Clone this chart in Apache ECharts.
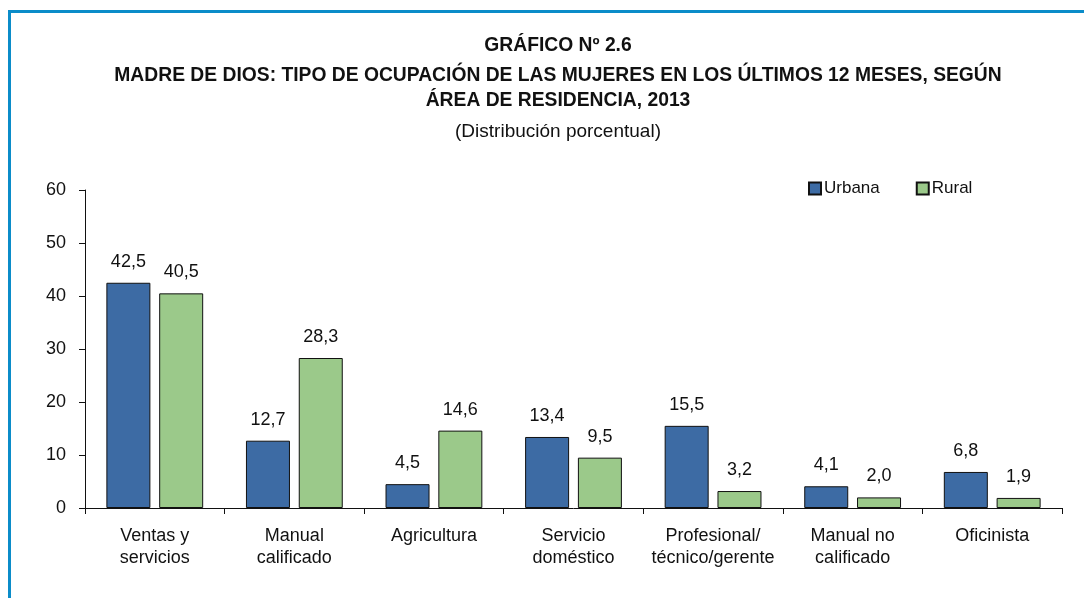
<!DOCTYPE html>
<html><head><meta charset="utf-8">
<script src="https://cdn.jsdelivr.net/npm/echarts@6/dist/echarts.min.js"></script>
<style>html,body{margin:0;padding:0;background:#fff}#c{width:1084px;height:598px}</style>
</head><body><div id="c"></div>
<script>
var categories = ['Ventas y\nservicios','Manual\ncalificado','Agricultura','Servicio\ndoméstico','Profesional/\ntécnico/gerente','Manual no\ncalificado','Oficinista'];
var urbana = [42.5,12.7,4.5,13.4,15.5,4.1,6.8];
var rural = [40.5,28.3,14.6,9.5,3.2,2.0,1.9];
var yTicks = [0,10,20,30,40,50,60];
var FONT = "'Liberation Sans',Arial,sans-serif";
var chart = echarts.init(document.getElementById('c'), null, {renderer:'canvas'});
function fmt(p){return p.value.toFixed(1).replace('.',',');}
function titleText(txt, y, bold, size){
  return {type:'text',x:558,y:y,
    style:{text:txt,font:(bold?'bold ':'')+size+'px '+FONT,fill:'#111',textAlign:'center',textVerticalAlign:'middle'}};
}
chart.setOption({
  backgroundColor:'#fff',
  animation:false,
  graphic:[
    {type:'rect',shape:{x:9.5,y:11.5,width:2000,height:2000},style:{fill:'none',stroke:'#0b8cc9',lineWidth:3},z:100},
    titleText('GRÁFICO Nº 2.6',46,true,19.3),
    titleText('MADRE DE DIOS: TIPO DE OCUPACIÓN DE LAS MUJERES EN LOS ÚLTIMOS 12 MESES, SEGÚN',76,true,19.3),
    titleText('ÁREA DE RESIDENCIA, 2013',101,true,19.3),
    titleText('(Distribución porcentual)',132,false,19)
  ],
  legend:{
    left:808, top:180, padding:0, itemWidth:12, itemHeight:12, itemGap:36,
    textStyle:{fontFamily:FONT,fontSize:17,color:'#111',padding:[0,0,0,-2]},
    data:[{name:'Urbana',icon:'rect'},{name:'Rural',icon:'rect'}]
  },
  grid:{left:85,right:22,top:190,bottom:90,containLabel:false},
  xAxis:{
    type:'category', data:categories,
    axisLine:{lineStyle:{color:'#111',width:1}},
    axisTick:{show:true,length:6,lineStyle:{color:'#111'}},
    axisLabel:{interval:0,fontFamily:FONT,fontSize:18,color:'#111',lineHeight:22,margin:17}
  },
  yAxis:{
    type:'value', min:0, max:60, interval:10,
    axisLine:{show:true,lineStyle:{color:'#111'}},
    axisTick:{show:true,length:6,lineStyle:{color:'#111'}},
    splitLine:{show:false},
    axisLabel:{fontFamily:FONT,fontSize:18,color:'#111',margin:19,
      formatter:function(v){return yTicks.indexOf(v)>=0?String(v):'';}}
  },
  series:[
    {name:'Urbana',type:'bar',data:urbana,barWidth:44,barGap:'20%',
     itemStyle:{color:'#3d6ba4',borderColor:'#111',borderWidth:1},
     label:{show:true,position:'top',distance:12,formatter:fmt,fontFamily:FONT,fontSize:18,color:'#111'}},
    {name:'Rural',type:'bar',data:rural,barWidth:44,
     itemStyle:{color:'#9bc98a',borderColor:'#111',borderWidth:1},
     label:{show:true,position:'top',distance:12,formatter:fmt,fontFamily:FONT,fontSize:18,color:'#111'}}
  ]
});
</script></body></html>
